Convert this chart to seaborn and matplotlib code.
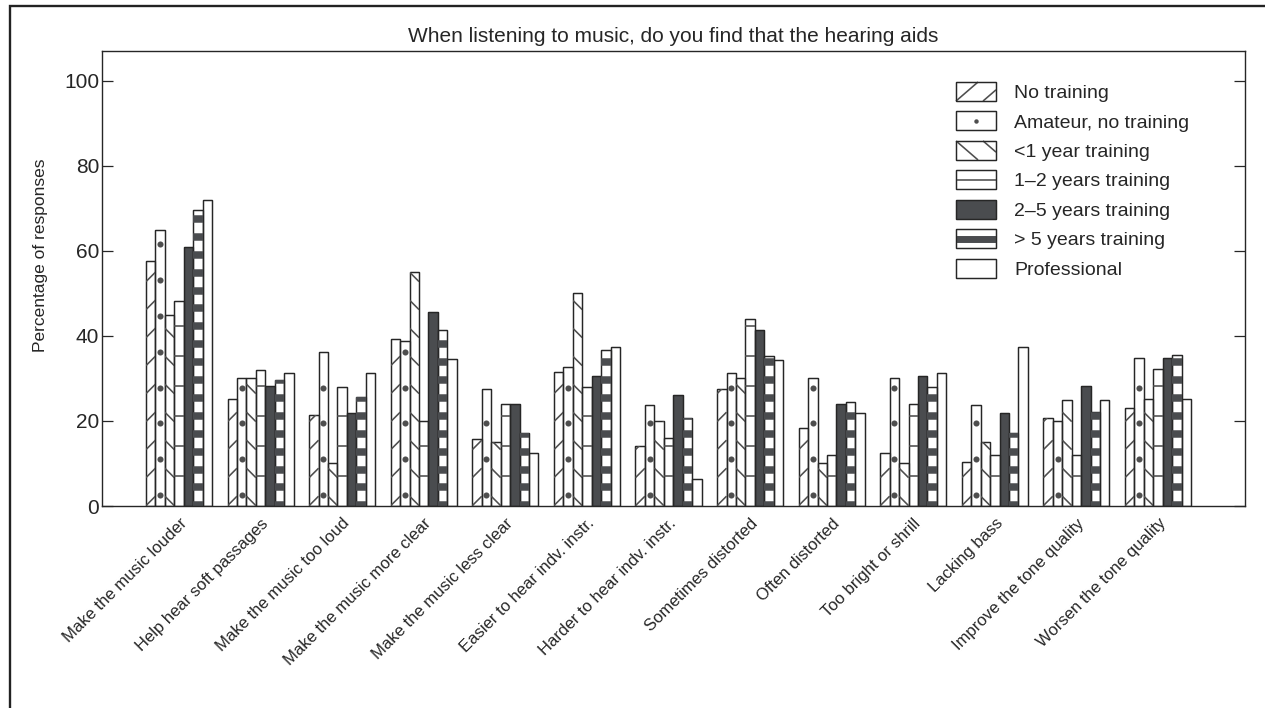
import numpy as np
import pandas as pd
import matplotlib
matplotlib.use("Agg")
import matplotlib.pyplot as plt
import seaborn as sns
from matplotlib.patches import Rectangle
from matplotlib.lines import Line2D
from matplotlib.collections import LineCollection
from matplotlib.legend_handler import HandlerBase

# ---- data -------------------------------------------------------------
questions = [
    "Make the music louder", "Help hear soft passages", "Make the music too loud",
    "Make the music more clear", "Make the music less clear", "Easier to hear indv. instr.",
    "Harder to hear indv. instr.", "Sometimes distorted", "Often distorted",
    "Too bright or shrill", "Lacking bass", "Improve the tone quality", "Worsen the tone quality",
]
groups = [
    "No training", "Amateur, no training", "<1 year training", "1\u20132 years training",
    "2\u20135 years training", "> 5 years training", "Professional",
]

no_training = [57.6, 25.1, 21.5, 39.2, 15.7, 31.4, 14.2, 27.5, 18.4, 12.4, 10.4, 20.6, 23.1]
amateur = [65.0, 30.0, 36.3, 38.8, 27.6, 32.6, 23.7, 31.3, 30.2, 30.0, 23.7, 20.0, 34.9]
under_1yr = [45.0, 30.0, 10.0, 55.1, 15.0, 50.1, 20.0, 30.0, 10.0, 10.0, 15.0, 25.0, 25.1]
yrs_1_2 = [48.1, 32.0, 28.0, 20.0, 24.0, 28.1, 15.9, 44.0, 12.1, 24.0, 12.0, 12.1, 32.3]
yrs_2_5 = [60.9, 28.3, 21.8, 45.7, 23.9, 30.6, 26.1, 41.4, 23.9, 30.5, 21.8, 28.3, 34.7]
over_5yrs = [69.6, 29.6, 25.7, 41.5, 17.2, 36.7, 20.8, 35.3, 24.4, 28.1, 17.2, 22.0, 35.4]
professional = [71.9, 31.3, 31.3, 34.5, 12.5, 37.4, 6.3, 34.4, 21.9, 31.3, 37.4, 25.0, 25.1]

title = "When listening to music, do you find that the hearing aids"
y_label = "Percentage of responses"
y_ticks = [0, 20, 40, 60, 80, 100]

series = [no_training, amateur, under_1yr, yrs_1_2, yrs_2_5, over_5yrs, professional]
fill_kinds = ["ne", "dot", "nw", "line", "solid", "band", "plain"]

# ---- style ------------------------------------------------------------
EDGE = "#262626"
PAT = "#4e4e4e"
DARK = "#4a4c4f"

sns.set_theme(style="white")
plt.rcParams["font.family"] = ["Liberation Sans", "DejaVu Sans"]

W, H = 1265, 708
fig = plt.figure(figsize=(W / 100, H / 100), dpi=100)
ax = fig.add_axes([102 / W, 1 - 506 / H, (1245 - 102) / W, (506 - 51) / H])

long = pd.DataFrame(
    {
        "question": np.tile(questions, len(groups)),
        "group": np.repeat(groups, len(questions)),
        "pct": np.concatenate(series),
    }
)
palette = {g: ("white" if k != "solid" else DARK) for g, k in zip(groups, fill_kinds)}

sns.barplot(
    data=long, x="question", y="pct", hue="group",
    order=questions, hue_order=groups, palette=palette, saturation=1,
    width=0.81, gap=0, edgecolor=EDGE, linewidth=0.9,
    errorbar=None, legend=False, ax=ax,
)

ax.set_xlim(-0.944, 13.066)
ax.set_ylim(0, 107)

# pixel size of one data unit along each axis
xpu = ax.bbox.width / (ax.get_xlim()[1] - ax.get_xlim()[0])
ypu = ax.bbox.height / (ax.get_ylim()[1] - ax.get_ylim()[0])

containers = sorted(ax.containers, key=lambda c: c.patches[0].get_x())


def add_clipped(artist, bar):
    # clip the fill pattern to the bar it belongs to
    artist.set_clip_path(bar)
    artist.set_clip_on(True)


def decorate(bar, kind):
    x0, w, h = bar.get_x(), bar.get_width(), bar.get_height()
    xc = x0 + w / 2
    if kind in ("ne", "nw"):
        step = 28 / ypu
        rise = w * xpu / ypu
        segs = []
        for y in np.arange(-rise + 0.35 * step, h + step, step):
            if kind == "ne":
                segs.append([(x0, y), (x0 + w, y + rise)])
            else:
                segs.append([(x0, y + rise), (x0 + w, y)])
        lc = LineCollection(segs, colors=PAT, linewidths=1.15)
        ax.add_collection(lc, autolim=False)
        add_clipped(lc, bar)
    elif kind == "dot":
        ys = np.arange(11 / ypu, h - 0.8, 35.8 / ypu)
        (pts,) = ax.plot(np.full(len(ys), xc), ys, "o", ms=4.4, color=PAT, mec="none")
        add_clipped(pts, bar)
    elif kind == "line":
        ys = np.arange(7.05, h, 7.05)
        segs = [[(x0, y), (x0 + w, y)] for y in ys]
        lc = LineCollection(segs, colors=PAT, linewidths=1.15)
        ax.add_collection(lc, autolim=False)
        add_clipped(lc, bar)
    elif kind == "band":
        ys = np.arange(0.7 / ypu, h + 1, 17.9 / ypu)
        segs = [[(x0, y), (x0 + w, y)] for y in ys]
        lc = LineCollection(segs, colors=DARK, linewidths=5.4, capstyle="butt")
        ax.add_collection(lc, autolim=False)
        add_clipped(lc, bar)


for cont, kind in zip(containers, fill_kinds):
    for bar in cont.patches:
        decorate(bar, kind)
    # redraw the outline over the fill pattern
    for bar in cont.patches:
        ax.add_patch(Rectangle((bar.get_x(), 0), bar.get_width(), bar.get_height(),
                               fill=False, edgecolor=EDGE, linewidth=0.9))

# ---- axes -------------------------------------------------------------
ax.set_yticks(y_ticks)
ax.set_yticklabels([str(t) for t in y_ticks], fontsize=15)
ax.tick_params(axis="y", direction="in", length=8, width=0.9, color=EDGE,
               right=True, left=True, pad=2)
ax.tick_params(axis="x", length=0, pad=7)
ax.set_xticks(range(len(questions)))
ax.set_xticklabels(questions, rotation=45, ha="right", rotation_mode="anchor",
                   fontsize=12)
ax.set_xlabel("")
ax.set_ylabel(y_label, fontsize=12.5)
ax.yaxis.set_label_coords(-0.047, 0.55)
for s in ax.spines.values():
    s.set_visible(True)
    s.set_color(EDGE)
    s.set_linewidth(1.0)

fig.text(673 / W, 1 - 37 / H, title, ha="center", va="center", fontsize=15)

# ---- legend -----------------------------------------------------------
class SwatchHandler(HandlerBase):
    def __init__(self, kind):
        super().__init__()
        self.kind = kind

    def create_artists(self, legend, orig_handle, xdescent, ydescent,
                       width, height, fontsize, trans):
        x0, y0 = -xdescent, -ydescent
        face = DARK if self.kind == "solid" else "white"
        arts = [Rectangle((x0, y0), width, height, facecolor=face,
                          edgecolor=EDGE, linewidth=0.9, transform=trans)]

        def seg(xa, ya, xb, yb, lw=1.15, color=PAT):
            arts.append(Line2D([x0 + xa * width, x0 + xb * width],
                               [y0 + ya * height, y0 + yb * height],
                               color=color, linewidth=lw, solid_capstyle="butt",
                               transform=trans))

        if self.kind == "ne":
            seg(0, 0, 22 / 40, 1)
            seg(27 / 40, 0, 1, 13 / 22)
        elif self.kind == "nw":
            seg(0, 1, 22 / 40, 0)
            seg(27 / 40, 1, 1, 9 / 22)
        elif self.kind == "line":
            seg(0, 0.5, 1, 0.5)
        elif self.kind == "band":
            seg(0, 0.5, 1, 0.5, lw=5.0, color=DARK)
        elif self.kind == "dot":
            arts.append(Line2D([x0 + width / 2], [y0 + height / 2], marker="o",
                               ms=3.2, color=PAT, mec="none", linestyle="none",
                               transform=trans))
        arts.append(Rectangle((x0, y0), width, height, fill=False,
                              edgecolor=EDGE, linewidth=0.9, transform=trans))
        return arts


handles = [Rectangle((0, 0), 1, 1) for _ in groups]
hmap = {h: SwatchHandler(k) for h, k in zip(handles, fill_kinds)}
fig.legend(handles, groups, handler_map=hmap, loc="upper left",
           bbox_to_anchor=(956 / W, 1 - 82 / H), bbox_transform=fig.transFigure,
           frameon=False, fontsize=14, handlelength=2.06, handleheight=1.13,
           handletextpad=0.93, labelspacing=0.48, borderpad=0, borderaxespad=0)

# outer frame of the figure
fig.patches.append(Rectangle((10 / W, -0.02), 1.05, 1 - 6 / H + 0.02, fill=False,
                             edgecolor="#222222", linewidth=1.7,
                             transform=fig.transFigure))

fig.savefig("out.png", dpi=100)
